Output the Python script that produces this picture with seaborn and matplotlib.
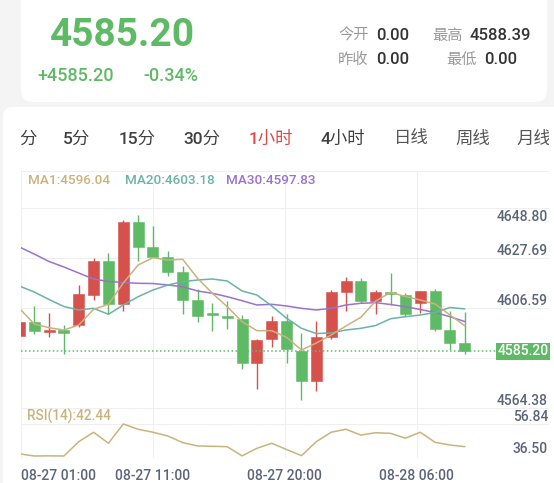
import numpy as np
import matplotlib.pyplot as plt
from matplotlib.patches import FancyBboxPatch
from matplotlib.transforms import IdentityTransform, offset_copy
import seaborn as sns

sns.set_theme(style="white")
plt.rcParams['font.family'] = ['Roboto', 'Noto Sans CJK SC', 'DejaVu Sans']

W, H = 554, 483

# hourly candles
opens = [4591.74, 4597.78, 4593.30, 4594.28, 4596.26, 4609.18, 4623.40, 4605.12, 4639.86, 4629.31,
         4625.22, 4618.63, 4606.81, 4600.82, 4600.18, 4598.79, 4580.35, 4590.35, 4598.20, 4585.54,
         4572.75, 4591.19, 4610.44, 4614.75, 4606.52, 4610.10, 4609.18, 4605.55, 4610.61, 4594.40,
         4588.70]
closes = [4597.78, 4593.98, 4594.28, 4593.14, 4609.34, 4623.40, 4605.25, 4639.86, 4629.44, 4625.22,
          4618.76, 4606.94, 4600.18, 4600.40, 4599.21, 4580.35, 4590.05, 4598.20, 4586.13, 4572.75,
          4591.19, 4610.44, 4614.75, 4606.31, 4610.19, 4609.26, 4601.03, 4610.61, 4594.49, 4588.79,
          4585.20]
highs = [4598.10, 4604.53, 4601.45, 4596.51, 4613.14, 4624.67, 4626.90, 4640.71, 4642.82, 4638.30,
         4627.62, 4621.16, 4611.45, 4605.55, 4606.64, 4600.48, 4590.48, 4600.18, 4600.90, 4593.14,
         4598.07, 4611.03, 4616.52, 4616.35, 4611.03, 4618.21, 4609.77, 4610.86, 4611.45, 4602.30,
         4601.87]
lows = [4591.74, 4592.59, 4591.19, 4584.14, 4595.67, 4607.06, 4601.03, 4602.42, 4623.53, 4625.22,
        4617.20, 4601.03, 4597.65, 4593.73, 4594.70, 4577.81, 4569.37, 4586.97, 4580.47, 4564.73,
        4568.65, 4590.48, 4602.42, 4605.55, 4601.03, 4604.62, 4600.18, 4601.58, 4593.85, 4585.83,
        4584.02]

ma1 = [4603.43, 4596.81, 4595.25, 4594.28, 4596.39, 4603.01, 4605.12, 4614.11, 4621.71, 4624.79,
       4623.82, 4624.12, 4616.10, 4609.77, 4604.11, 4597.78, 4593.98, 4593.98, 4591.19, 4585.83,
       4588.79, 4592.16, 4595.96, 4599.64, 4606.52, 4610.10, 4608.42, 4606.94, 4605.25, 4600.61,
       4596.04]
ma20 = [4612.85, 4610.31, 4607.15, 4604.19, 4602.72, 4603.43, 4600.90, 4604.83, 4608.33, 4611.16,
        4613.27, 4614.66, 4615.38, 4615.80, 4614.96, 4610.74, 4609.05, 4604.41, 4599.21, 4594.99,
        4592.80, 4593.01, 4594.28, 4594.99, 4596.17, 4599.04, 4599.89, 4600.61, 4601.66, 4603.77,
        4603.18]
ma30 = [4629.31, 4626.35, 4623.19, 4620.87, 4618.33, 4615.80, 4614.75, 4614.32, 4613.99, 4613.90,
        4613.27, 4612.55, 4610.74, 4609.77, 4608.33, 4606.64, 4604.83, 4605.12, 4604.41, 4603.43,
        4602.72, 4603.43, 4604.83, 4605.55, 4605.80, 4605.04, 4604.11, 4602.93, 4601.66, 4599.89,
        4597.83]
rsi = [37.9, 36.5, 36.6, 36.5, 45.6, 51.6, 44.6, 56.84, 53.5, 51.6,
       49.2, 45.0, 42.9, 42.7, 42.4, 36.6, 41.4, 44.6, 40.6, 36.7,
       45.6, 51.6, 53.5, 49.8, 51.3, 50.9, 47.8, 51.6, 45.2, 43.5,
       42.44]

price_ticks = [4648.80, 4627.69, 4606.59, 4564.38]
price_labels = ["4648.80", "4627.69", "4606.59", "4564.38"]
rsi_ticks = [56.84, 36.50]
rsi_labels = ["56.84", "36.50"]
time_labels = ["08-27 01:00", "08-27 11:00", "08-27 20:00", "08-28 06:00"]
tabs = ["分", "5分", "15分", "30分", "1小时", "4小时", "日线", "周线", "月线"]
active_tab = "1小时"
change_text = "+4585.20"
pct_text = "-0.34%"
stat_labels = ["今开", "最高", "昨收", "最低"]
stat_values = ["0.00", "4588.39", "0.00", "0.00"]

GREEN = "#5fba66"
RED = "#d6504c"
TAN = "#cbb27c"
TEAL = "#6bb3a5"
PURPLE = "#9b72cc"
GRID = "#efefef"
AXIS_TXT = "#5b6478"
BG = "#f4f4f4"
MED = 500

fig = plt.figure(figsize=(W / 100, H / 100), dpi=100)
fig.patch.set_facecolor(BG)


def box(x0, y0, x1, y1):
    return [x0 / W, 1 - y1 / H, (x1 - x0) / W, (y1 - y0) / H]


def ftext(x, y, s, **kw):
    return fig.text(x / W, 1 - y / H, s, va="baseline", **kw)


def card(x0, y0, x1, y1, r):
    fig.add_artist(FancyBboxPatch((x0, H - y1), x1 - x0, y1 - y0,
                                  boxstyle=f"round,pad=0,rounding_size={r}",
                                  transform=IdentityTransform(),
                                  facecolor="white", edgecolor="none", zorder=-5))


# cards
card(21, -20, 547, 102, 12)
card(3, 107, 600, 540, 10)

# header
ftext(49.5, 46, f"{closes[-1]:.2f}", fontsize=28, weight="bold", color=GREEN)
ftext(37, 80.6, change_text, fontsize=13, color=GREEN, weight=MED)
ftext(143, 80.6, pct_text, fontsize=13, color=GREEN, weight=MED)
stat_pos = [(338, 376, 39.6), (432, 470, 39.6), (338, 376, 63.6), (446, 484, 63.6)]
for lab, val, (xl, xv, yb) in zip(stat_labels, stat_values, stat_pos):
    ftext(xl, yb, lab, fontsize=11, color="#9a9a9a")
    ftext(xv, yb, val, fontsize=12, color="#333333", weight=MED)

# period tabs (clipped at the right like the scroll strip)
tab_ax = fig.add_axes(box(0, 118, 549, 155))
tab_ax.set_axis_off()
tab_x = [27.5, 77, 137, 202, 271, 343, 411, 473, 533.5]
for t, x in zip(tabs, tab_x):
    if t == active_tab:
        c = "#e04848"
    elif t in ("日线", "周线", "月线"):
        c = "#555555"
    else:
        c = "#404040"
    tab_ax.text(x / 549, (155 - 143.5) / 37, t, ha="center", va="baseline", weight=MED,
                fontsize=12.5, color=c, clip_on=True, transform=tab_ax.transAxes)

# chart panels
left, right = 20.7, 548.7
main_top, main_bot, rsi_bot = 171, 408, 458
ax = fig.add_axes(box(left, main_top, right, main_bot))
rax = fig.add_axes(box(left, main_bot, right, rsi_bot))

cols = [0, 0.25, 0.5, 0.75, 1.0]
main_rows = [(main_bot - y) / (main_bot - main_top) for y in (171, 208, 258, 308, 358)]
rsi_rows = [1.0, (rsi_bot - 424) / (rsi_bot - main_bot), 0.0]
for a, rows in ((ax, main_rows), (rax, rsi_rows)):
    for f in cols:
        a.plot([f, f], [0, 1], transform=a.transAxes, color=GRID, lw=0.8, zorder=0)
    for f in rows:
        a.plot([0, 1], [f, f], transform=a.transAxes, color=GRID, lw=0.8, zorder=0)

idx = np.arange(len(opens))
o, c, h, l = map(np.array, (opens, closes, highs, lows))
col = np.where(c >= o, RED, GREEN)
ax.vlines(idx, l, h, colors=col, linewidth=1.0, zorder=2)
ax.bar(idx, np.maximum(np.abs(c - o), 1.0), bottom=np.minimum(o, c), width=0.74,
       color=col, edgecolor=col, linewidth=0.4, zorder=3)

for series, colr in ((ma30, PURPLE), (ma20, TEAL), (ma1, TAN)):
    sns.lineplot(x=idx, y=series, ax=ax, color=colr, linewidth=1.1, legend=False,
                 estimator=None, zorder=4)

ax.set_xlim(0.091, 35.65)
ax.set_ylim(4561.35, 4661.39)
ax.set_axis_off()

# last price line + tag
box_left = (498 - left) / (right - left)
ax.axhline(closes[-1], xmin=0, xmax=box_left, color=GREEN, lw=1.1, ls=(0, (1, 1.6)), zorder=5)
ax.text(0.9995, closes[-1], f"{closes[-1]:.2f}", transform=ax.get_yaxis_transform(),
        ha="right", va="center", fontsize=10, color="white", zorder=6, weight=MED,
        bbox=dict(boxstyle="square,pad=0.08", facecolor=GREEN, edgecolor="none"))

# price labels inside the plot
ylo, yhi = ax.get_ylim()
top_row_val = ylo + main_rows[1] * (yhi - ylo)
lab_tr = offset_copy(ax.get_yaxis_transform(), fig=fig, y=-4, units="dots")
for v, s in zip(price_ticks, price_labels):
    if v > top_row_val:
        ax.text(0.9987, main_rows[1], s, transform=offset_copy(ax.transAxes, fig=fig, y=-1.5, units="dots"),
                ha="right", va="top", fontsize=10, color=AXIS_TXT, weight=MED)
    else:
        ax.text(0.9987, v, s, transform=lab_tr, ha="right", va="baseline",
                fontsize=10, color=AXIS_TXT, weight=MED)

# legend
ftext(28.3, 184, f"MA1:{ma1[-1]:.2f}", fontsize=9.7, color=TAN, weight=MED)
ftext(125.4, 184, f"MA20:{ma20[-1]:.2f}", fontsize=9.7, color=TEAL, weight=MED)
ftext(226.1, 184, f"MA30:{ma30[-1]:.2f}", fontsize=9.7, color=PURPLE, weight=MED)

# RSI panel
sns.lineplot(x=idx, y=rsi, ax=rax, color=TAN, linewidth=1.1, legend=False, estimator=None, zorder=3)
rax.set_xlim(0.091, 35.65)
rax.set_ylim(35.23, 67.01)
rax.set_axis_off()
rsi_tr = offset_copy(rax.get_yaxis_transform(), fig=fig, y=3.5, units="dots")
for v, s in zip(rsi_ticks, rsi_labels):
    rax.text(0.9987, v, s, transform=rsi_tr, ha="right", va="baseline", fontsize=10,
             color=AXIS_TXT, weight=MED)
ftext(26.7, 421, f"RSI(14):{rsi[-1]:.2f}", fontsize=9.8, color=TAN, weight=MED)

# time labels under the vertical grid lines
for i, s in enumerate(time_labels):
    x = left + cols[i] * (right - left)
    ftext(x + (0.3 if i == 0 else 0), 480, s, fontsize=10, color=AXIS_TXT, weight=MED,
          ha="left" if i == 0 else "center")

fig.savefig("out.png", dpi=100, facecolor=BG)
